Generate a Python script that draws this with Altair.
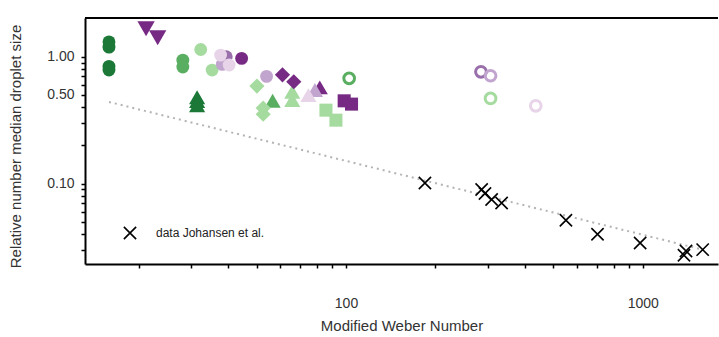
import altair as alt
import pandas as pd

# ---- colour groups (PRGn levels) ----
groups = ["P4", "P3", "P2", "P1", "G1", "G2", "G3"]
group_colors = ["#762a83", "#9970ab", "#c2a5cf", "#e7d4e8", "#a6dba0", "#5aae61", "#1b7837"]

# set A: filled circles
a_x = [15.9, 15.9, 15.9, 15.9, 28.2, 28.2, 32.4, 35.4, 39.5, 38.3, 37.8, 40.4, 44.5, 54.0]
a_y = [1.31, 1.19, 0.84, 0.785, 0.94, 0.83, 1.14, 0.785, 1.00, 0.87, 1.03, 0.86, 0.97, 0.70]
a_g = ["G3", "G3", "G3", "G3", "G2", "G2", "G1", "G1", "P3", "P2", "P1", "P1", "P4", "P2"]

# set B: triangles down
b_x = [21.2, 23.2]
b_y = [1.66, 1.41]
b_g = ["P4", "P4"]

# set C: triangles up
c_x = [31.5, 31.5, 31.5, 56.6, 65.9, 65.9, 81.6, 78.6, 74.7]
c_y = [0.48, 0.447, 0.415, 0.449, 0.53, 0.455, 0.573, 0.546, 0.498]
c_g = ["G3", "G3", "G3", "G2", "G1", "G1", "P4", "P2", "P1"]

# set D: diamonds
d_x = [61.1, 66.7, 50.1, 52.6, 52.6]
d_y = [0.72, 0.635, 0.587, 0.394, 0.352]
d_g = ["P4", "P4", "G1", "G1", "G1"]

# set E: squares
e_x = [85.6, 92.5, 98.6, 104.4]
e_y = [0.379, 0.316, 0.449, 0.423]
e_g = ["G1", "G1", "P4", "P4"]

# open rings
ring_x = [102.5, 285.0, 307.0, 307.0, 436.0]
ring_y = [0.675, 0.76, 0.708, 0.469, 0.41]
ring_g = ["G2", "P3", "P2", "G1", "P1"]

# Johansen et al. data
joh_x = [184.5, 286.5, 294.0, 309.6, 334.5, 551.0, 704.0, 980.0, 1377.0, 1399.0, 1592.0]
joh_y = [0.101, 0.0897, 0.0834, 0.0748, 0.0703, 0.0513, 0.0398, 0.034, 0.0272, 0.0294, 0.0301]
joh_label = "data Johansen et al."

# dotted fit line end points
fit_x = [15.9, 1600.0]
fit_y = [0.44, 0.030]

x_ticks = [20, 30, 40, 50, 60, 70, 80, 90, 100, 200, 300, 400, 500, 600, 700, 800, 900, 1000]
y_ticks = [0.03, 0.04, 0.05, 0.06, 0.07, 0.08, 0.09, 0.1, 0.2, 0.3, 0.4, 0.5, 0.6, 0.7, 0.8, 0.9, 1.0]
x_domain = [13.2, 1793]
y_domain = [0.0232, 2.02]

W, H = 633, 246
FONT = "Liberation Sans"

xscale = alt.Scale(type="log", domain=x_domain, nice=False, zero=False)
yscale = alt.Scale(type="log", domain=y_domain, nice=False, zero=False)

xaxis = alt.Axis(
    title="Modified Weber Number", values=x_ticks,
    labelExpr="datum.value == 100 || datum.value == 1000 ? format(datum.value, 'd') : ''",
    labelOverlap=False, labelPadding=28, titlePadding=8,
)
yaxis = alt.Axis(
    title="Relative number median droplet size", values=y_ticks,
    labelExpr="datum.value == 1 || datum.value == 0.5 || datum.value == 0.1 ? format(datum.value, '.2f') : ''",
    labelOverlap=False, labelPadding=7, titlePadding=23, titleY=128,
)

X = alt.X("x:Q", scale=xscale, axis=xaxis)
Y = alt.Y("y:Q", scale=yscale, axis=yaxis)
color_scale = alt.Scale(domain=groups, range=group_colors)
C = alt.Color("grp:N", scale=color_scale, legend=None)

fit = alt.Chart(pd.DataFrame({"x": fit_x, "y": fit_y})).mark_line(
    color="#b3b3b3", strokeWidth=2, strokeDash=[2, 4]).encode(x=X, y=Y)


def filled_layer(xs, ys, gs, shape, size):
    df = pd.DataFrame({"x": xs, "y": ys, "grp": gs})
    return alt.Chart(df).mark_point(filled=True, opacity=1, shape=shape, size=size).encode(x=X, y=Y, color=C)


lay_a = filled_layer(a_x, a_y, a_g, "circle", 165)
lay_b = filled_layer(b_x, b_y, b_g, "triangle-down", 300)
lay_c = filled_layer(c_x, c_y, c_g, "triangle-up", 260)
lay_d = filled_layer(d_x, d_y, d_g, "diamond", 230)
lay_e = filled_layer(e_x, e_y, e_g, "square", 170)

rings = alt.Chart(pd.DataFrame({"x": ring_x, "y": ring_y, "grp": ring_g})).mark_point(
    filled=False, shape="circle", size=115, strokeWidth=3, opacity=1).encode(x=X, y=Y, color=C)

cross_path = "M-1,-1L1,1M-1,1L1,-1"
df_joh = pd.DataFrame({"x": joh_x, "y": joh_y, "src": [joh_label] * len(joh_x)})
joh = alt.Chart(df_joh).mark_point(filled=False, size=150, strokeWidth=1.6, opacity=1, color="black").encode(
    x=X, y=Y,
    shape=alt.Shape("src:N", scale=alt.Scale(domain=[joh_label], range=[cross_path]),
                    legend=alt.Legend(title=None, orient="none", legendX=38, legendY=208,
                                      symbolSize=150, symbolStrokeWidth=1.6, symbolStrokeColor="black",
                                      symbolFillColor="transparent", labelFontSize=12, labelFont=FONT,
                                      labelColor="#222222", labelOffset=19, padding=0)),
)

top_border = alt.Chart(pd.DataFrame({"x": fit_x, "y": fit_y})).mark_rule(color="black", strokeWidth=2).encode(
    x=alt.value(0), x2=alt.value(W), y=alt.value(0)
)

chart = alt.layer(fit, lay_a, lay_b, lay_c, lay_d, lay_e, rings, joh, top_border).properties(
    width=W, height=H,
    autosize=alt.AutoSizeParams(type="none"),
    padding={"left": 85, "top": 18, "right": 1, "bottom": 73},
).configure_view(stroke=None).configure_axis(
    grid=False, domainColor="black", domainWidth=2, tickColor="black", tickWidth=1.5, tickSize=4,
    labelFont=FONT, labelFontSize=14, labelColor="#333333",
    titleFont=FONT, titleFontSize=15, titleFontWeight="normal", titleColor="#333333",
)

chart.save("out.html", embed_options={"renderer": "svg", "actions": False})
